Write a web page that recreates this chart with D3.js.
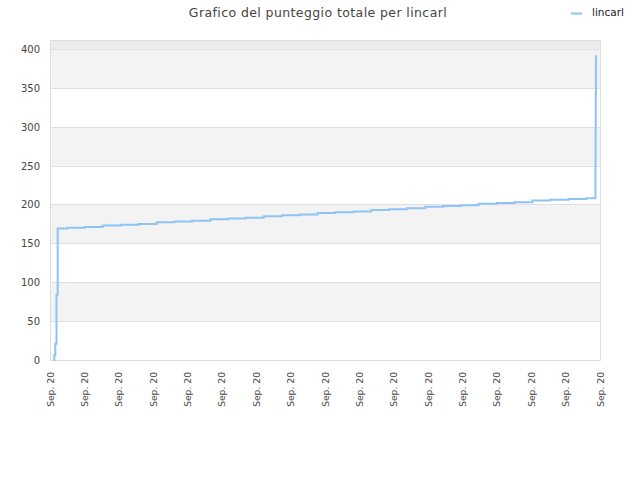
<!DOCTYPE html>
<html>
<head>
<meta charset="utf-8">
<script src="https://cdn.jsdelivr.net/npm/d3@7"></script>
<style>
  body { margin: 0; background: #fff; }
  svg { font-family: "DejaVu Sans", sans-serif; }
</style>
</head>
<body>
<svg id="chart" width="640" height="480"></svg>
<script>
// minutes from the start of the day, and total score at that moment
var times = [6, 7.5, 9.3, 11.3, 13.4,
  30, 61, 92, 123, 155, 186, 217, 248, 280, 311, 342, 373, 405, 436, 467,
  498, 530, 561, 592, 623, 655, 686, 717, 748, 780, 811, 842, 873, 905, 936,
  952, 952.3, 952.6, 952.9];
var scores = [0, 6, 21, 84, 169,
  170, 171, 173, 174, 175, 177, 178, 179, 181, 182, 183, 185, 186, 187, 189,
  190, 191, 193, 194, 195, 197, 198, 199, 201, 202, 203, 205, 206, 207, 208,
  250, 295, 342, 392];
var tickLabels = d3.range(17).map(function() { return 'Sep. 20'; });
var yTicks = [0, 50, 100, 150, 200, 250, 300, 350, 400];
var seriesName = 'lincarl';

var data = times.map(function(t, i) { return { t: t, v: scores[i] }; });

var svg = d3.select('#chart');
// note: "top" is reserved on window, so plot edges get their own names
var plotLeft = 50, plotRight = 600, plotTop = 40, plotBottom = 360;

var x = d3.scaleLinear().domain([0, 960]).range([plotLeft, plotRight]);
var y = d3.scaleLinear().domain([0, 411.5]).range([plotBottom, plotTop]);

// plot background, alternating bands
svg.append('rect')
  .attr('x', plotLeft).attr('y', plotTop)
  .attr('width', plotRight - plotLeft).attr('height', y(400) - plotTop)
  .attr('fill', '#ececec');
svg.selectAll('.band')
  .data(yTicks.slice(0, -1))
  .enter()
  .append('rect')
  .attr('x', plotLeft)
  .attr('y', function(d) { return y(d + 50); })
  .attr('width', plotRight - plotLeft)
  .attr('height', function(d) { return y(d) - y(d + 50); })
  .attr('fill', function(d, i) { return i % 2 ? '#f3f3f3' : '#ffffff'; });

// grid lines
svg.selectAll('.grid')
  .data(yTicks.slice(1))
  .enter()
  .append('line')
  .attr('x1', plotLeft).attr('x2', plotRight)
  .attr('y1', function(d) { return Math.round(y(d)) + 0.5; })
  .attr('y2', function(d) { return Math.round(y(d)) + 0.5; })
  .attr('stroke', '#e0e0e0');

// frame
svg.append('path')
  .attr('d', 'M' + (plotLeft + 0.5) + ',' + plotTop + 'V' + (plotBottom + 0.5) + 'H' + (plotRight + 0.5) + 'V' + (plotTop + 0.5) + 'H' + plotLeft)
  .attr('fill', 'none')
  .attr('stroke', '#dddddd');

// y labels
svg.selectAll('.ylab')
  .data(yTicks)
  .enter()
  .append('text')
  .attr('x', plotLeft - 10)
  .attr('y', function(d) { return y(d) + 4; })
  .attr('text-anchor', 'end')
  .attr('font-size', 10)
  .attr('fill', '#444')
  .text(function(d) { return d; });

// x labels
var xTick = d3.scaleLinear().domain([0, tickLabels.length - 1]).range([plotLeft, plotRight]);
svg.selectAll('.xlab')
  .data(tickLabels)
  .enter()
  .append('text')
  .attr('transform', function(d, i) { return 'translate(' + (xTick(i) + 3.5) + ',' + (plotBottom + 12) + ') rotate(-90)'; })
  .attr('text-anchor', 'end')
  .attr('font-size', 9.2)
  .attr('fill', '#444')
  .text(function(d) { return d; });

// the score line
var line = d3.line()
  .x(function(d) { return x(d.t); })
  .y(function(d) { return y(d.v); })
  .curve(d3.curveStepAfter);
svg.append('path')
  .datum(data)
  .attr('d', line)
  .attr('fill', 'none')
  .attr('stroke', '#8ec3f5')
  .attr('stroke-width', 2);

// title
svg.append('text')
  .attr('x', 318).attr('y', 17)
  .attr('text-anchor', 'middle')
  .attr('font-size', 12.5)
  .attr('letter-spacing', 0.4)
  .attr('fill', '#444')
  .text('Grafico del punteggio totale per ' + seriesName);

// legend
svg.append('line')
  .attr('x1', 571).attr('x2', 582)
  .attr('y1', 13.5).attr('y2', 13.5)
  .attr('stroke', '#8ec3f5').attr('stroke-width', 2);
svg.append('text')
  .attr('x', 592).attr('y', 16)
  .attr('font-size', 10.5)
  .attr('fill', '#222')
  .text(seriesName);
</script>
</body>
</html>
